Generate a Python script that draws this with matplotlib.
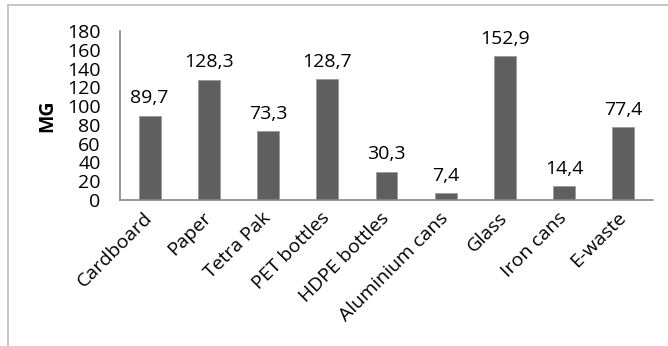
import matplotlib.pyplot as plt
from matplotlib.lines import Line2D

# data
categories = ['Cardboard', 'Paper', 'Tetra Pak', 'PET bottles', 'HDPE bottles',
              'Aluminium cans', 'Glass', 'Iron cans', 'E-waste']
values = [89.7, 128.3, 73.3, 128.7, 30.3, 7.4, 152.9, 14.4, 77.4]
y_ticks = list(range(0, 181, 20))

plt.rcParams['font.family'] = ['Open Sans', 'DejaVu Sans']

fig = plt.figure(figsize=(6.68, 3.46), dpi=100)
ax = fig.add_axes([120 / 668, 1 - 200 / 346, 533 / 668, 169 / 346])

x = range(len(categories))
bars = ax.bar(x, values, width=0.37, color='#5f5f5f', edgecolor='#9a9a9a', linewidth=0.6)

for bar, v in zip(bars, values):
    ax.annotate(f'{v:.1f}'.replace('.', ','),
                xy=(bar.get_x() + bar.get_width() / 2, bar.get_height()),
                xytext=(0, 6), textcoords='offset points',
                ha='center', va='bottom', fontsize=14, color='black')

ax.set_xlim(-0.5, len(categories) - 0.5)
ax.set_ylim(0, 180)
ax.set_yticks(y_ticks)
ax.set_yticklabels([str(t) for t in y_ticks], fontsize=14)
ax.set_xticks(list(x))
ax.set_xticklabels(categories, rotation=45, ha='right', va='center',
                   rotation_mode='anchor', fontsize=14)
ax.tick_params(axis='y', length=0, pad=14)
ax.tick_params(axis='x', length=0, pad=11)
ax.set_ylabel('MG', fontsize=14, fontweight='bold', labelpad=7)

for side in ['top', 'right']:
    ax.spines[side].set_visible(False)
for side in ['left', 'bottom']:
    ax.spines[side].set_color('#888888')
    ax.spines[side].set_linewidth(1.2)

# outer chart frame (partly cropped)
fig.add_artist(Line2D([8 / 668, 1], [1 - 5 / 346, 1 - 5 / 346], color='#bdbdbd', linewidth=1.2))
fig.add_artist(Line2D([8 / 668, 8 / 668], [0, 1 - 5 / 346], color='#bdbdbd', linewidth=1.2))

fig.savefig('out.png', dpi=100)
